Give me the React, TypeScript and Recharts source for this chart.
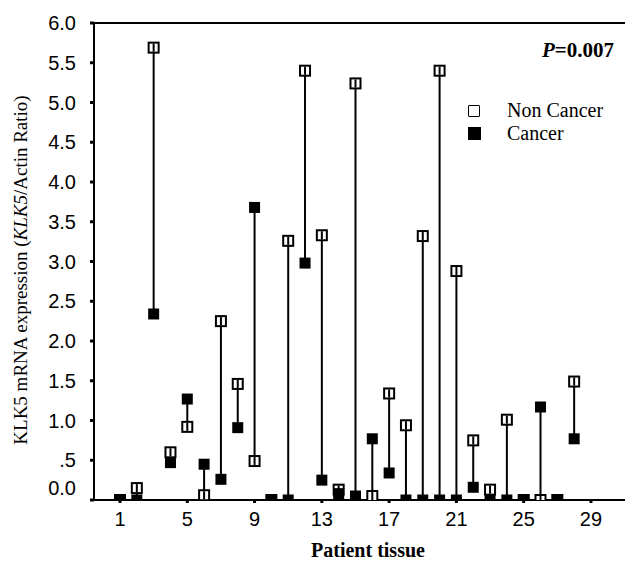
import React from 'react';
import { ScatterChart, Scatter, XAxis, YAxis, ErrorBar, ReferenceLine, Label } from 'recharts';

const patients = [1, 2, 3, 4, 5, 6, 7, 8, 9, 10, 11, 12, 13, 14, 15, 16, 17, 18, 19, 20, 21, 22, 23, 24, 25, 26, 27, 28];
const nonCancer = [0, 0.15, 5.69, 0.6, 0.92, 0.06, 2.25, 1.46, 0.49, 0, 3.26, 5.4, 3.33, 0.13, 5.24, 0.05, 1.34, 0.94, 3.32, 5.4, 2.88, 0.75, 0.13, 1.01, 0, 0, 0, 1.49];
const cancer = [0, 0, 2.34, 0.47, 1.27, 0.45, 0.26, 0.91, 3.68, 0, 0, 2.98, 0.25, 0.08, 0.05, 0.77, 0.34, 0, 0, 0, 0, 0.16, 0, 0, 0, 1.17, 0, 0.77];
const xTicks = [1, 5, 9, 13, 17, 21, 25, 29];
const yTicks = [0, 0.5, 1, 1.5, 2, 2.5, 3, 3.5, 4, 4.5, 5, 5.5, 6];
const seriesNames = ['Non Cancer', 'Cancer'];
const pText = '=0.007';

const ncData = patients.map((p, i) => ({
  patient: p,
  value: nonCancer[i],
  err: [Math.max(0, nonCancer[i] - cancer[i]), Math.max(0, cancer[i] - nonCancer[i])],
}));
const cData = patients.map((p, i) => ({ patient: p, value: cancer[i] }));

const SANS = '"Liberation Sans", Arial, sans-serif';
const SERIF = '"Liberation Serif", "Times New Roman", serif';

const OpenSquare = (props: any) => {
  const { cx, cy } = props;
  if (cx == null || cy == null) return null;
  return (
    <g>
      <rect x={cx - 5} y={cy - 5} width={10} height={10} fill="#fff" stroke="#000" strokeWidth={2} />
      <line x1={cx} x2={cx} y1={cy - 4} y2={cy + 4} stroke="#000" strokeWidth={2} />
    </g>
  );
};

const FilledSquare = (props: any) => {
  const { cx, cy } = props;
  if (cx == null || cy == null) return null;
  return <rect x={cx - 5.5} y={cy - 5.5} width={11} height={11} fill="#000" />;
};

const YTick = (props: any) => {
  const { x, y, payload } = props;
  const v = payload.value;
  const label = v === 0 ? '0.0' : v === 0.5 ? '.5' : v.toFixed(1);
  return (
    <text x={x} y={v === 0 ? y - 12 : y} dy="0.355em" textAnchor="end" fontFamily={SANS} fontSize={20} fill="#000">
      {label}
    </text>
  );
};

const LegendOverlay = () => (
  <div style={{ position: 'absolute', left: 460, top: 30, width: 170, height: 110, fontFamily: SERIF, color: '#000' }}>
    <div style={{ position: 'absolute', left: 74, top: 0, lineHeight: '24px', fontSize: 21, fontWeight: 'bold', whiteSpace: 'nowrap' }}>
      <i>P</i>{pText}
    </div>
    <div style={{ position: 'absolute', left: 0, top: 61, height: 23, display: 'flex', alignItems: 'center', whiteSpace: 'nowrap' }}>
      <span style={{ display: 'inline-block', width: 10, height: 10, border: '1.3px solid #000', borderRadius: 1, background: '#fff' }} />
      <span style={{ marginLeft: 27, fontSize: 20, lineHeight: '23px' }}>{seriesNames[0]}</span>
    </div>
    <div style={{ position: 'absolute', left: 0, top: 84, height: 23, display: 'flex', alignItems: 'center', whiteSpace: 'nowrap' }}>
      <span style={{ display: 'inline-block', width: 12.6, height: 12.6, background: '#000' }} />
      <span style={{ marginLeft: 26.4, fontSize: 20, lineHeight: '23px' }}>{seriesNames[1]}</span>
    </div>
  </div>
);

export default function App() {
  return (
    <div style={{ position: 'relative', width: 625, height: 555 }}>
      <ScatterChart width={625} height={555} margin={{ top: 15, right: 3, bottom: 23, left: 0 }}>
        <XAxis
          dataKey="patient"
          type="number"
          domain={[-0.546, 31.32]}
          allowDataOverflow
          ticks={xTicks}
          interval={0}
          height={40}
          tickSize={3}
          tickMargin={9}
          axisLine={{ stroke: '#000', strokeWidth: 2 }}
          tickLine={{ stroke: '#000', strokeWidth: 3 }}
          tick={{ fill: '#000', fontFamily: SANS, fontSize: 20 }}
        >
          <Label
            content={() => (
              <text x={360} y={549} textAnchor="middle" fontFamily={SERIF} fontSize={20} fontWeight="bold" fill="#000">
                Patient tissue
              </text>
            )}
          />
        </XAxis>
        <YAxis
          dataKey="value"
          type="number"
          domain={[0, 6]}
          allowDataOverflow
          ticks={yTicks}
          interval={0}
          width={86}
          tickSize={4}
          tickMargin={14}
          axisLine={{ stroke: '#000', strokeWidth: 2 }}
          tickLine={{ stroke: '#000', strokeWidth: 3 }}
          tick={<YTick />}
        >
          <Label
            content={() => (
              <text
                transform="translate(12, 262) rotate(-90)"
                textAnchor="middle"
                dominantBaseline="central"
                fontFamily={SERIF}
                fontSize={19}
                fill="#000"
              >
                KLK5 mRNA expression (<tspan fontStyle="italic">KLK5</tspan>/Actin Ratio)
              </text>
            )}
          />
        </YAxis>
        <ReferenceLine y={6} stroke="#000" strokeWidth={2} />
        <Scatter name={seriesNames[0]} data={ncData} dataKey="value" shape={<OpenSquare />} isAnimationActive={false}>
          <ErrorBar dataKey="err" direction="y" width={0} stroke="#000" strokeWidth={2} isAnimationActive={false} />
        </Scatter>
        <Scatter name={seriesNames[1]} data={cData} dataKey="value" shape={<FilledSquare />} isAnimationActive={false} />
      </ScatterChart>
      <LegendOverlay />
    </div>
  );
}
